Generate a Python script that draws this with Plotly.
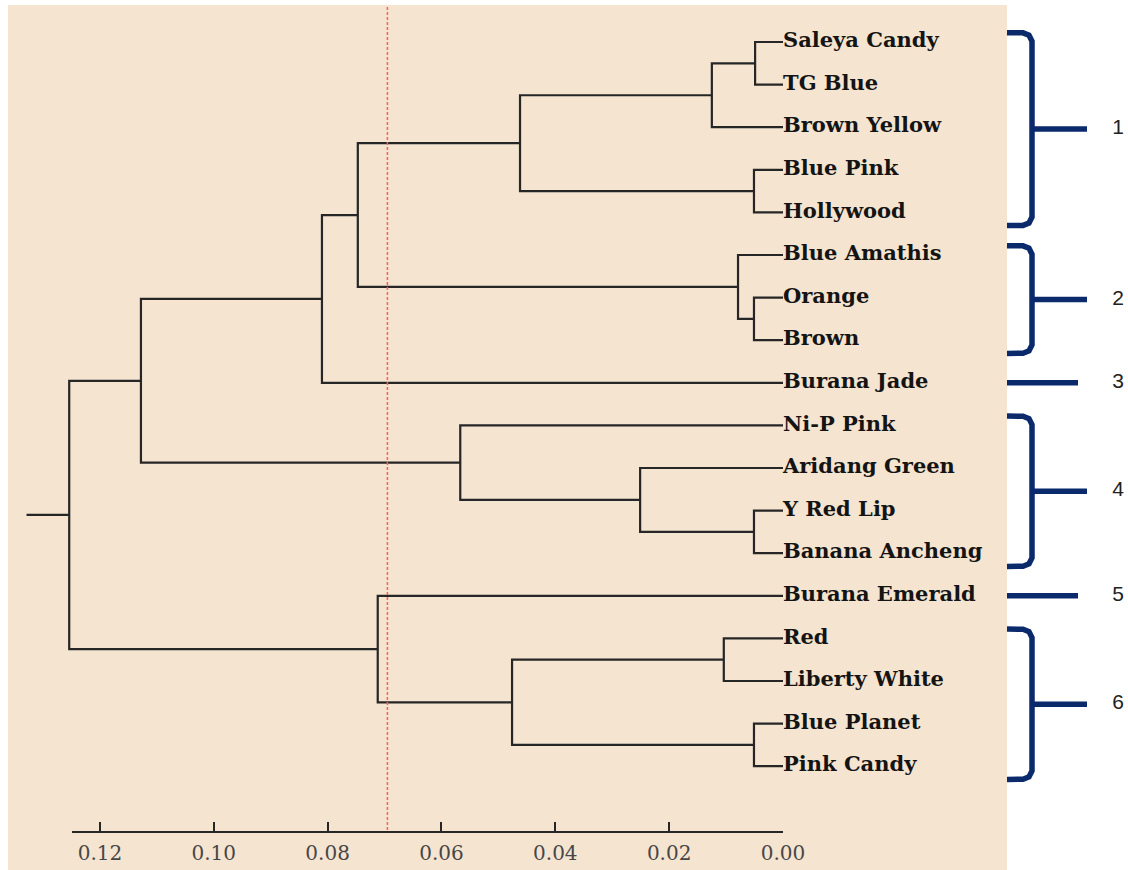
import plotly.graph_objects as go

# ---------------- data ----------------
leaf_names = [
    "Saleya Candy", "TG Blue", "Brown Yellow", "Blue Pink", "Hollywood",
    "Blue Amathis", "Orange", "Brown", "Burana Jade", "Ni-P Pink",
    "Aridang Green", "Y Red Lip", "Banana Ancheng", "Burana Emerald",
    "Red", "Liberty White", "Blue Planet", "Pink Candy",
]
# linkage (scipy-like): node ids 0..17 are leaves, 18.. are merges in order
merge_left = [0, 18, 3, 19, 6, 5, 21, 24, 11, 10, 9, 25, 14, 16, 30, 13, 29]
merge_right = [1, 2, 4, 20, 7, 22, 23, 8, 12, 26, 27, 28, 15, 17, 31, 32, 33]
merge_height = [0.0049, 0.0125, 0.0051, 0.0462, 0.0051, 0.0079, 0.0747, 0.0810,
                0.0051, 0.0251, 0.0567, 0.1128, 0.0104, 0.0051, 0.0476, 0.0712,
                0.1254]
cluster_names = ["1", "2", "3", "4", "5", "6"]
cluster_sizes = [5, 3, 1, 4, 1, 4]
cut_height = 0.0695
tick_values = [0.12, 0.10, 0.08, 0.06, 0.04, 0.02, 0.00]
tick_labels = ["0.12", "0.10", "0.08", "0.06", "0.04", "0.02", "0.00"]
axis_max = 0.125

# ---------------- layout constants ----------------
W, H = 1128, 870
X_ZERO_PX = 783.0
PX_PER_UNIT = 5692.0
ROW0_PX = 42.0
ROW_PX = 42.6
ROOT_STUB = 0.0075
BEIGE = "#f5e4d0"
LINE_C = "#262626"
NAVY = "#0a2a6c"
TIP_PX, VERT_PX, ARM_PX, SINGLE_PX, NUM_PX = 1007, 1032, 1087, 1078, 1118

x_range = [X_ZERO_PX / PX_PER_UNIT, (X_ZERO_PX - W) / PX_PER_UNIT]
y_range = [(H - ROW0_PX) / ROW_PX, (0 - ROW0_PX) / ROW_PX]
axis_dom = [(X_ZERO_PX - axis_max * PX_PER_UNIT) / W, X_ZERO_PX / W]

# ---------------- dendrogram geometry ----------------
n = len(leaf_names)
node_y = {i: float(i) for i in range(n)}
node_h = {i: 0.0 for i in range(n)}
seg_x, seg_y = [], []
for k, (a, b, h) in enumerate(zip(merge_left, merge_right, merge_height)):
    nid = n + k
    node_y[nid] = (node_y[a] + node_y[b]) / 2
    node_h[nid] = h
    seg_x += [node_h[a], h, h, node_h[b], None]
    seg_y += [node_y[a], node_y[a], node_y[b], node_y[b], None]
root = n + len(merge_height) - 1
seg_x += [node_h[root], node_h[root] + ROOT_STUB, None]
seg_y += [node_y[root], node_y[root], None]

fig = go.Figure()
fig.add_trace(go.Scatter(
    x=seg_x, y=seg_y, mode="lines",
    line=dict(color=LINE_C, width=2.2), hoverinfo="skip", showlegend=False))

fig.add_trace(go.Scatter(
    x=[0.0] * n, y=list(range(n)), text=leaf_names, mode="text",
    textposition="middle right",
    textfont=dict(family="DejaVu Serif", size=21, color="#141414", weight="bold"),
    hoverinfo="skip", showlegend=False))

# dummy trace to host the visible distance axis
fig.add_trace(go.Scatter(x=[0.06], y=[None], xaxis="x2", yaxis="y",
                         mode="markers", showlegend=False, hoverinfo="skip"))

# ---------------- cluster brackets ----------------
bx, by, num_x, num_y = [], [], [], []
start = 0
for name, size in zip(cluster_names, cluster_sizes):
    first, last = start, start + size - 1
    if size > 1:
        top, bot = first - 0.22, last + 0.31
        mid = (top + bot) / 2
        bx += [TIP_PX, VERT_PX - 9, VERT_PX - 3, VERT_PX, VERT_PX,
               VERT_PX - 3, VERT_PX - 9, TIP_PX, None,
               VERT_PX, ARM_PX, None]
        by += [top, top + 0.005, top + 0.06, top + 0.2, bot - 0.2,
               bot - 0.06, bot - 0.005, bot, None, mid, mid, None]
    else:
        mid = float(first)
        bx += [TIP_PX, SINGLE_PX, None]
        by += [mid, mid, None]
    num_x.append(NUM_PX)
    num_y.append(mid)
    start += size

fig.add_trace(go.Scatter(
    x=bx, y=by, xaxis="x3", yaxis="y", mode="lines",
    line=dict(color=NAVY, width=5.5), hoverinfo="skip", showlegend=False))
fig.add_trace(go.Scatter(
    x=num_x, y=num_y, xaxis="x3", yaxis="y", mode="text", text=cluster_names,
    textposition="middle center", cliponaxis=False,
    textfont=dict(family="Liberation Sans", size=21, color="#222222"),
    hoverinfo="skip", showlegend=False))

# ---------------- shapes ----------------
fig.add_shape(type="rect", xref="paper", yref="paper",
              x0=8 / W, x1=1007 / W, y0=0, y1=(H - 5) / H,
              fillcolor=BEIGE, line=dict(width=0), layer="below")
fig.add_shape(type="line", xref="x", yref="paper",
              x0=cut_height, x1=cut_height, y0=(H - 830) / H, y1=(H - 5) / H,
              line=dict(color="#ff5c5c", width=1.5, dash="3px,2px"), layer="above")

fig.update_layout(
    width=W, height=H, autosize=False,
    margin=dict(l=0, r=0, t=0, b=0, pad=0, autoexpand=False),
    paper_bgcolor="white", plot_bgcolor="rgba(0,0,0,0)",
    showlegend=False,
    xaxis=dict(range=x_range, visible=False, domain=[0, 1], automargin=False),
    xaxis2=dict(range=[axis_max, 0], domain=axis_dom, anchor="free",
                position=(H - 832) / H, showline=True, linecolor=LINE_C,
                linewidth=2, ticks="inside", ticklen=9, tickwidth=2,
                tickcolor=LINE_C, tickvals=tick_values, ticktext=tick_labels,
                tickfont=dict(family="DejaVu Serif", size=20, color="#474747"),
                ticklabelstandoff=3, automargin=False,
                showgrid=False, zeroline=False),
    xaxis3=dict(range=[0, W], visible=False, domain=[0, 1], anchor="y",
                automargin=False),
    yaxis=dict(range=y_range, visible=False, domain=[0, 1], automargin=False),
)

fig.write_html(
    "out.html",
    config={"displayModeBar": False},
    post_script="document.body.style.margin='0';document.body.style.overflow='hidden';",
)
